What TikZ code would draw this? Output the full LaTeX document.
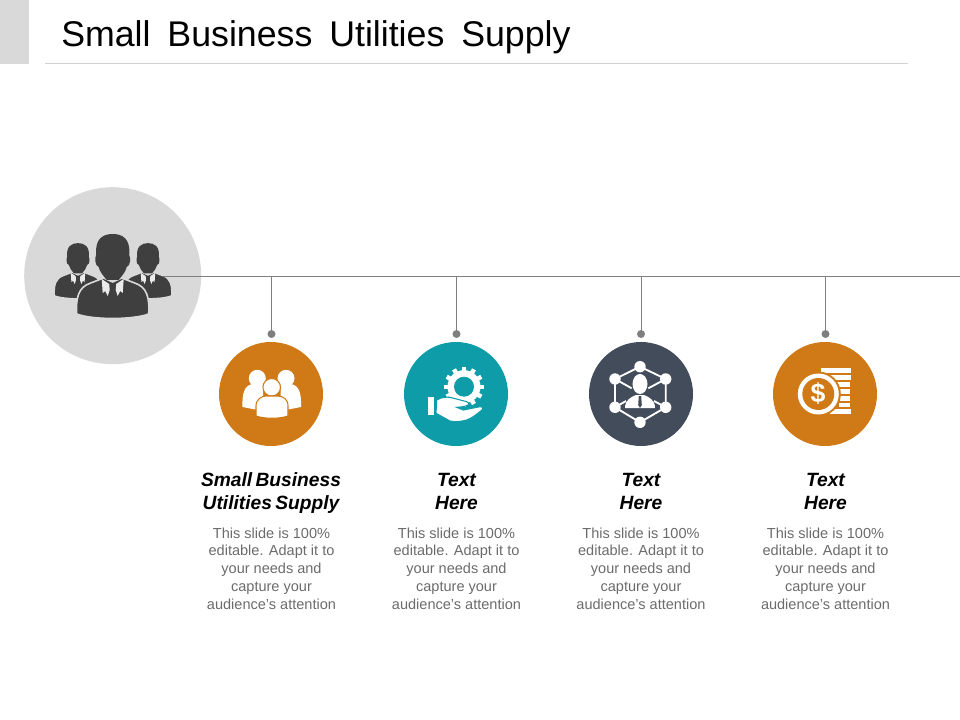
\documentclass[tikz,border=0pt]{standalone}
\usepackage{fontspec}
\setmainfont{Liberation Sans}
\definecolor{hubgray}{HTML}{D9D9D9}
\definecolor{darkicon}{HTML}{3F3F3F}
\definecolor{linegray}{HTML}{7F7F7F}
\definecolor{bodygray}{HTML}{6B6B6B}
\definecolor{orangeC}{HTML}{CF7A17}
\definecolor{tealC}{HTML}{0E9DA8}
\definecolor{slateC}{HTML}{434C5A}
\begin{document}
\begin{tikzpicture}[x=0.75pt, y=-0.75pt]
        \tikzstyle{badge}=[shape=circle,inner sep=0pt,minimum size=78pt]
        \tikzstyle{dot}=[shape=circle,inner sep=0pt,minimum size=6pt,fill=linegray]
        \tikzstyle{wire}=[draw=linegray,line width=0.7pt]
        \tikzstyle{heading}=[align=center,font=\fontsize{14.4}{17.25}\selectfont\bfseries\itshape,anchor=base]
        \tikzstyle{blurb}=[align=center,font=\fontsize{10.9}{13.3}\selectfont,text=bodygray,anchor=base]
        \tikzset{person/.pic={
            \fill[darkicon,draw=hubgray,line width=1.2pt] (-36,37) .. controls (-37,20) and (-34,10) .. (-22,6) -- (-9,1) -- (0,5) -- (9,1) -- (22,6) .. controls (34,10) and (37,20) .. (36,37) .. controls (20,43) and (-20,43) .. (-36,37) -- cycle;
            \fill[darkicon] (-6,3) .. controls (-9,-1) and (-13,-5) .. (-14,-10) .. controls (-18,-11) and (-18,-20) .. (-16.5,-22) .. controls (-18,-38) and (-10,-43) .. (0,-43) .. controls (10,-43) and (18,-38) .. (16.5,-22) .. controls (18,-20) and (18,-11) .. (14,-10) .. controls (13,-5) and (9,-1) .. (6,3) -- cycle;
            \fill[white!92!black] (-11,2) -- (-3.5,7) -- (-3,13) -- (-5,19) -- (-7.5,14) -- (-10,16) -- cycle;
            \fill[white!92!black] (11,2) -- (3.5,7) -- (3,13) -- (5,19) -- (7.5,14) -- (10,16) -- cycle;
        }}

        \useasboundingbox (0,0) rectangle (960,720);

        % title bar
        \fill[hubgray] (0,0) rectangle (29,64);
        \node[anchor=base west,inner sep=0pt,font=\fontsize{26.8}{32}\selectfont] (title) at (61,47) {Small\hspace{5.2pt} Business\hspace{5.2pt} Utilities\hspace{5.2pt} Supply};
        \coordinate (ruleL) at (45,63.5);
        \coordinate (ruleR) at (908,63.5);
        \draw[draw=black!18,line width=0.6pt] (ruleL) -- (ruleR);

        % hub
        \node[badge,fill=hubgray,minimum size=132.75pt](hub) at (112.7,275.7){};
        \pic (side1) at (78,271.5) [scale=.66] {person};
        \pic (side2) at (148,271.5) [scale=.66] {person};
        \pic (main) at (112.7,277) {person};

        % badges
        \node[badge,fill=orangeC](b1) at (271,394){};
        \node[badge,fill=tealC](b2) at (456,394){};
        \node[badge,fill=slateC](b3) at (641,394){};
        \node[badge,fill=orangeC](b4) at (825,394){};

        % team icon
        \begin{scope}[shift={(271,394)}]
            \fill[white] (-13.7,-15.7) circle (8.5);
            \fill[white] (15,-15.7) circle (8.5);
            \fill[white] (-28.5,13) .. controls (-29,0) and (-27,-9) .. (-18,-10) -- (-8,-10) -- (-8,17) -- cycle;
            \fill[white] (30,13) .. controls (30.5,0) and (28.5,-9) .. (19.5,-10) -- (9.5,-10) -- (9.5,17) -- cycle;
            \filldraw[fill=white,draw=orangeC,line width=0.8pt] (0.7,-6.7) circle (8.8);
            \filldraw[fill=white,draw=orangeC,line width=0.8pt] (-15,22) -- (-15,12) .. controls (-15,5) and (-9,2) .. (-5,2) -- (6,2) .. controls (12,2) and (17,5) .. (17,12) -- (17,22) .. controls (8,25) and (-6,25) .. (-15,22) -- cycle;
        \end{scope}

        % gear and hand icon
        \begin{scope}[shift={(456,394)}]
            \foreach \a in {0,30,...,330}{
                \fill[white,shift={(8,-7.3)},rotate=\a] (-2.2,-20) rectangle (2.2,0);
            }
            \fill[white] (8,-7.3) circle (16.5);
            \fill[tealC] (8,-7.3) circle (10);
            \fill[white] (-27.7,2.7) rectangle (-22,21);
            \filldraw[fill=white,draw=tealC,line width=0.8pt] (-19.3,6) .. controls (-14,3) and (-10,3) .. (-6,3.3) -- (10.7,7.7) .. controls (13,8.5) and (13.5,10) .. (12.3,11) .. controls (8,13) and (4,13) .. (0.7,13.3) -- (7.3,16) -- (24,12.7) .. controls (26,12) and (28,14) .. (26.7,15.3) .. controls (20,21) and (16,24) .. (10.7,26) .. controls (4,28) and (-2,28) .. (-6,27) -- (-20,19.3) -- cycle;
        \end{scope}

        % network icon
        \begin{scope}[shift={(641,394)}]
            \draw[white,line width=1.4pt] (-1,-27.3) -- (24.7,-15) -- (24.7,13.3) -- (-1,28.3) -- (-26,13.3) -- (-26,-15) -- cycle;
            \draw[white,line width=1.4pt] (-26,-15) -- (-9.3,-5.7);
            \draw[white,line width=1.4pt] (24.7,-15) -- (7.3,-5.7);
            \draw[white,line width=1.4pt] (-26,13.3) -- (-15,7);
            \draw[white,line width=1.4pt] (24.7,13.3) -- (13,7);
            \foreach \p in {(-1,-27.3),(24.7,-15),(24.7,13.3),(-1,28.3),(-26,13.3),(-26,-15)}{
                \fill[white] \p circle (5.7);
            }
            \fill[white] (-1,-10) ellipse (7.5 and 10);
            \fill[white] (-16,14) .. controls (-16,6) and (-10,3) .. (-5,1) -- (3,1) .. controls (8,3) and (14,6) .. (14,14) -- cycle;
            \fill[slateC] (-2.2,2) -- (0.2,2) -- (0.8,11) -- (-1,14) -- (-2.8,11) -- cycle;
        \end{scope}

        % coins icon
        \begin{scope}[shift={(825,394)}]
            \fill[white] (-4,-26) rectangle (26,-21);
            \fill[white] (4,-19) rectangle (26,-14);
            \fill[white] (12,-12) rectangle (25,-7);
            \fill[white] (15,-5) rectangle (25,0);
            \fill[white] (15,2) rectangle (25,7);
            \fill[white] (14,9) rectangle (25,13);
            \fill[white] (5,15) rectangle (26,20);
            \fill[orangeC] (-6.7,0) circle (22.5);
            \fill[white] (-6.7,0) circle (20.5);
            \fill[orangeC] (-6.7,0) circle (16);
            \node[text=white,inner sep=0pt,font=\fontsize{20}{20}\selectfont\bfseries] (dollar) at (-7,0) {\$};
        \end{scope}

        % connectors
        \coordinate (lineL) at (163,276);
        \coordinate (lineR) at (960,276);
        \coordinate (t1) at (271.5,276);
        \coordinate (t2) at (456.5,276);
        \coordinate (t3) at (641,276);
        \coordinate (t4) at (825.5,276);
        \node[dot](d1) at (271.5,334){};
        \node[dot](d2) at (456.5,334){};
        \node[dot](d3) at (641,334){};
        \node[dot](d4) at (825.5,334){};
        \draw[wire] (lineL) -- (lineR);
        \draw[wire] (t1) -- (d1);
        \draw[wire] (t2) -- (d2);
        \draw[wire] (t3) -- (d3);
        \draw[wire] (t4) -- (d4);

        % captions
        \node[heading](h1) at (271,509){Small\hspace{-1.5pt} Business\\Utilities\hspace{-1.5pt} Supply};
        \node[heading](h2) at (456.5,509){Text\\Here};
        \node[heading](h3) at (641,509){Text\\Here};
        \node[heading](h4) at (825.5,509){Text\\Here};
        \node[blurb](t1b) at (271.5,609){This slide is 100\%\\editable. Adapt it to\\your needs and\\capture your\\audience's attention};
        \node[blurb](t2b) at (456.5,609){This slide is 100\%\\editable. Adapt it to\\your needs and\\capture your\\audience's attention};
        \node[blurb](t3b) at (641,609){This slide is 100\%\\editable. Adapt it to\\your needs and\\capture your\\audience's attention};
        \node[blurb](t4b) at (825.5,609){This slide is 100\%\\editable. Adapt it to\\your needs and\\capture your\\audience's attention};
        \end{tikzpicture}
\end{document}
